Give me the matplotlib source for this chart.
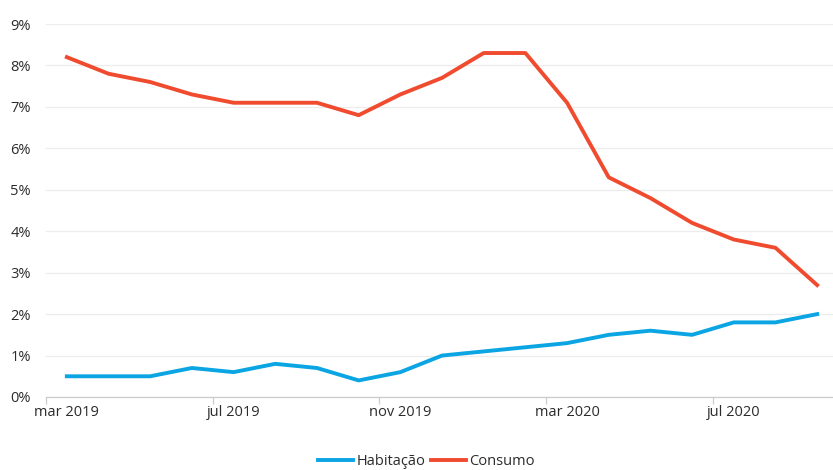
import matplotlib.pyplot as plt
from matplotlib.ticker import FixedLocator, FuncFormatter

plt.rcParams["font.family"] = ["Open Sans", "DejaVu Sans"]

# meses (mar 2019 a set 2020)
meses = ["mar 2019", "abr 2019", "mai 2019", "jun 2019", "jul 2019", "ago 2019",
         "set 2019", "out 2019", "nov 2019", "dez 2019", "jan 2020", "fev 2020",
         "mar 2020", "abr 2020", "mai 2020", "jun 2020", "jul 2020", "ago 2020",
         "set 2020"]
rotulos = ["mar 2019", "jul 2019", "nov 2019", "mar 2020", "jul 2020"]

# taxas em %
habitacao = [0.5, 0.5, 0.5, 0.7, 0.6, 0.8, 0.7, 0.4, 0.6, 1.0, 1.1, 1.2,
             1.3, 1.5, 1.6, 1.5, 1.8, 1.8, 2.0]
consumo = [8.2, 7.8, 7.6, 7.3, 7.1, 7.1, 7.1, 6.8, 7.3, 7.7, 8.3, 8.3,
           7.1, 5.3, 4.8, 4.2, 3.8, 3.6, 2.7]

azul = "#0aa5e2"
vermelho = "#f04b2f"
texto = "#2b2b2b"

fig = plt.figure(figsize=(8.33, 4.70), dpi=100)
ax = fig.add_axes([46 / 833, 73 / 470, 792 / 833, 373 / 470])

x = list(range(len(meses)))
ax.plot(x, habitacao, color=azul, linewidth=2.8, label="Habitação",
        solid_joinstyle="round", clip_on=False)
ax.plot(x, consumo, color=vermelho, linewidth=2.8, label="Consumo",
        solid_joinstyle="round", clip_on=False)

ax.set_xlim(-0.5, len(meses) - 0.5)
ax.set_ylim(0, 9)

# eixo y
ax.set_yticks(range(0, 10))
ax.yaxis.set_major_formatter(FuncFormatter(lambda v, p: f"{v:.0f}%"))
ax.grid(axis="y", color="#ececec", linewidth=0.9)
ax.set_axisbelow(True)
ax.tick_params(axis="y", length=0, pad=11, labelsize=10.5, labelcolor=texto)

# eixo x: rótulos no centro, traços nas fronteiras
pos = [meses.index(r) for r in rotulos]
ax.xaxis.set_major_locator(FixedLocator(pos))
ax.set_xticklabels(rotulos)
ax.xaxis.set_minor_locator(FixedLocator([p - 0.5 for p in pos]))
ax.tick_params(axis="x", which="major", length=0, pad=6, labelsize=10.5,
               labelcolor=texto)
ax.tick_params(axis="x", which="minor", length=5, width=0.9, color="#cccccc")

for s in ["top", "right", "left"]:
    ax.spines[s].set_visible(False)
ax.spines["bottom"].set_color("#cccccc")
ax.spines["bottom"].set_linewidth(0.9)

fig.legend(loc="lower center", bbox_to_anchor=(0.512, -0.026), ncol=2,
           frameon=False, fontsize=10.5, handlelength=2.4, handletextpad=0.2,
           columnspacing=0.4, labelcolor=texto)

fig.savefig("out.png", dpi=100)
